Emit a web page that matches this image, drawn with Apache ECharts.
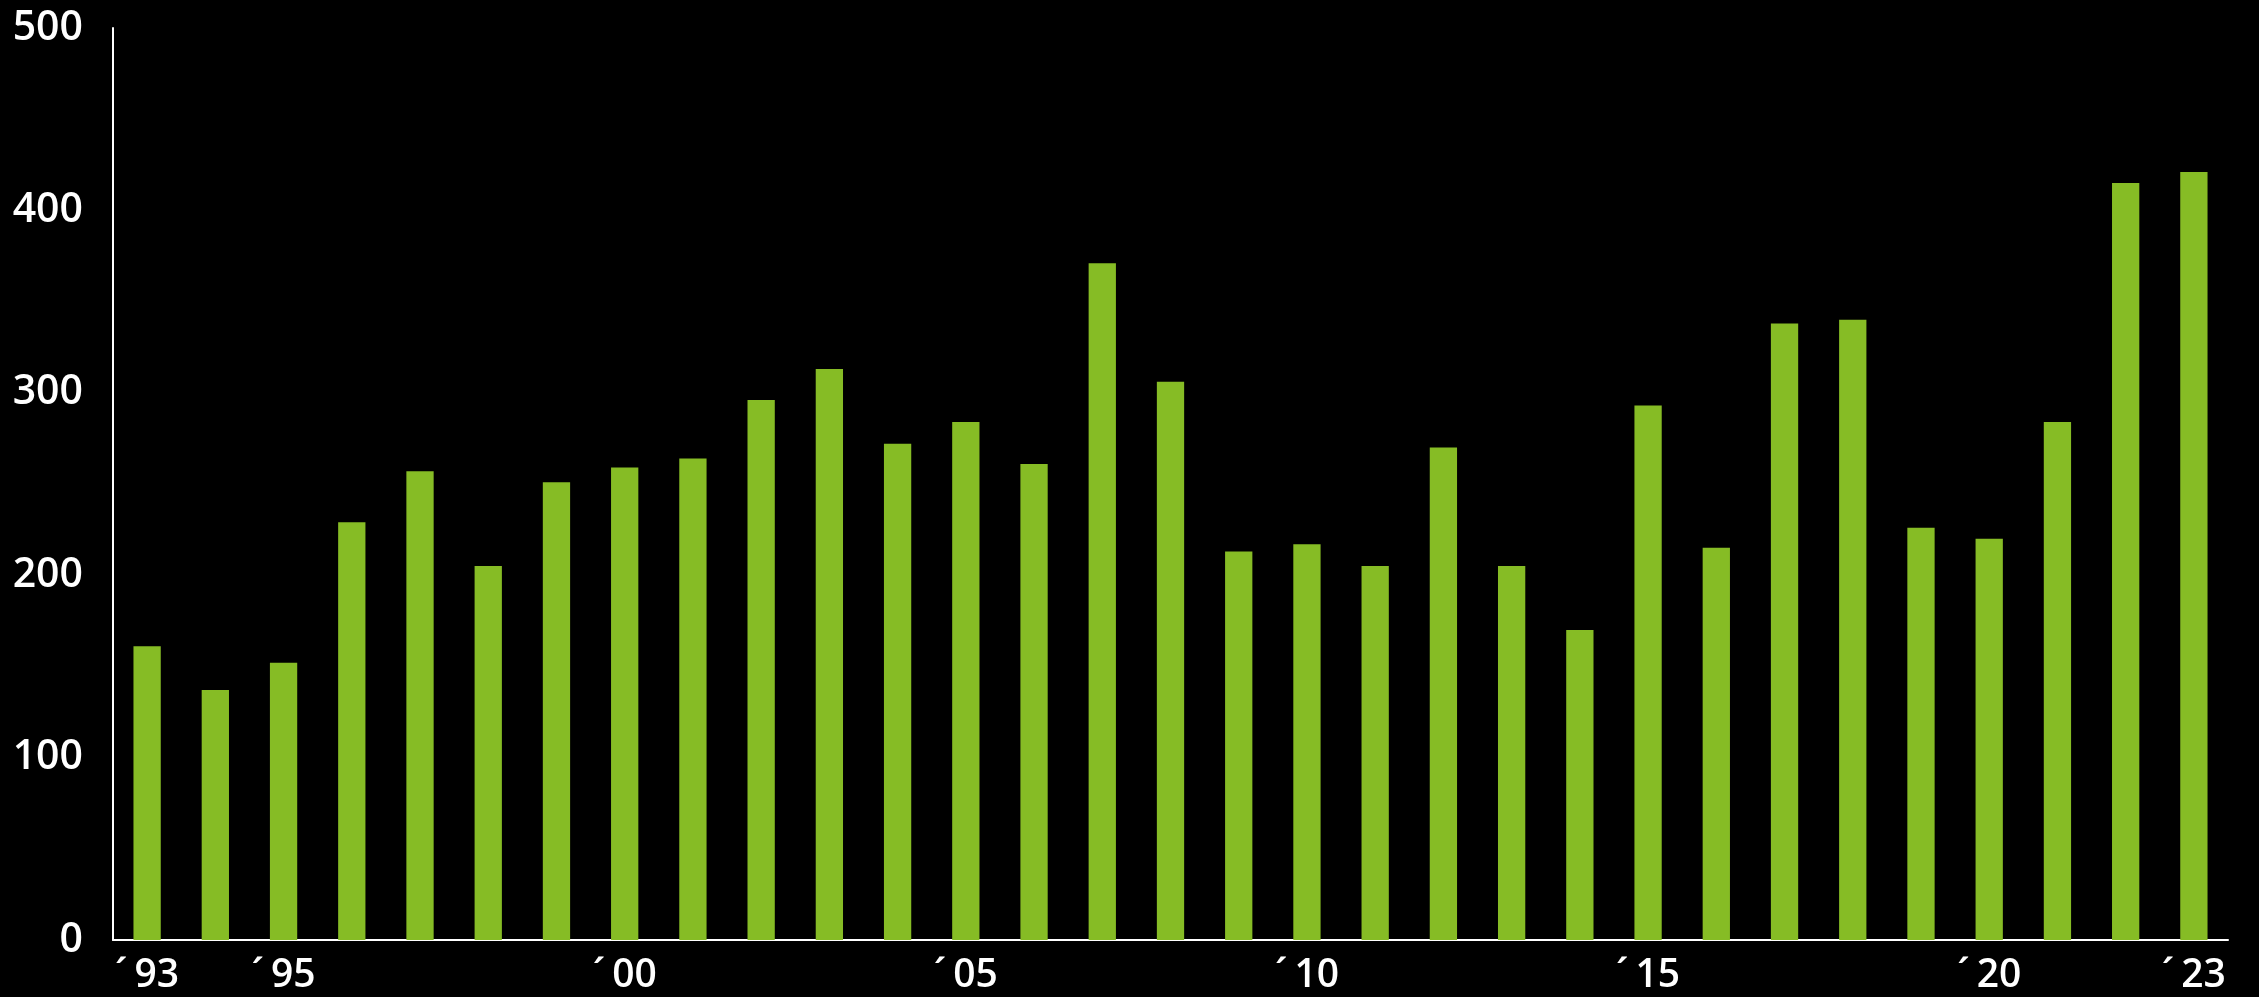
<!DOCTYPE html>
<html>
<head>
<meta charset="utf-8">
<style>
html,body{margin:0;padding:0;background:#000;}
#chart{width:2259px;height:997px;}
</style>
<script src="https://cdn.jsdelivr.net/npm/echarts@6/dist/echarts.min.js"></script>
</head>
<body>
<div id="chart"></div>
<script>
const years = ['1993','1994','1995','1996','1997','1998','1999','2000','2001','2002','2003','2004','2005','2006','2007','2008','2009','2010','2011','2012','2013','2014','2015','2016','2017','2018','2019','2020','2021','2022','2023'];
const values = [161,137,152,229,257,205,251,259,264,296,313,272,284,261,371,306,213,217,205,270,205,170,293,215,338,340,226,220,284,415,421];
const tickLabels = {'1993':'´93','1995':'´95','2000':'´00','2005':'´05','2010':'´10','2015':'´15','2020':'´20','2023':'´23'};
const yTicks = [0,100,200,300,400,500];

const chart = echarts.init(document.getElementById('chart'));
chart.setOption({
  backgroundColor:'#000',
  animation:false,
  grid:{left:113,right:31,top:28,bottom:57,containLabel:false},
  xAxis:{
    type:'category',
    data:years,
    axisLine:{show:true,lineStyle:{color:'#fff',width:2}},
    axisTick:{show:false},
    axisLabel:{
      interval:0,
      color:'#fff',
      fontFamily:'Open Sans',
      fontWeight:600,
      fontSize:39,
      margin:16,
      formatter:v=>{
        const t = tickLabels[v];
        if(!t) return '';
        return '{a|' + t.charAt(0) + '}{b|' + t.slice(1) + '}';
      },
      rich:{
        a:{color:'#fff',fontFamily:'Open Sans',fontWeight:600,fontSize:39,padding:[0,7,0,0]},
        b:{color:'#fff',fontFamily:'Open Sans',fontWeight:600,fontSize:39}
      }
    },
    splitLine:{show:false}
  },
  yAxis:{
    type:'value',
    min:yTicks[0],
    max:yTicks[yTicks.length-1],
    interval:yTicks[1]-yTicks[0],
    axisLine:{show:true,lineStyle:{color:'#fff',width:2}},
    axisTick:{show:false},
    splitLine:{show:false},
    axisLabel:{color:'#fff',fontFamily:'Open Sans',fontWeight:600,fontSize:41,margin:30}
  },
  series:[{
    type:'bar',
    data:values,
    barWidth:'40%',
    itemStyle:{color:'#86bc25'}
  }]
});
</script>
</body>
</html>
